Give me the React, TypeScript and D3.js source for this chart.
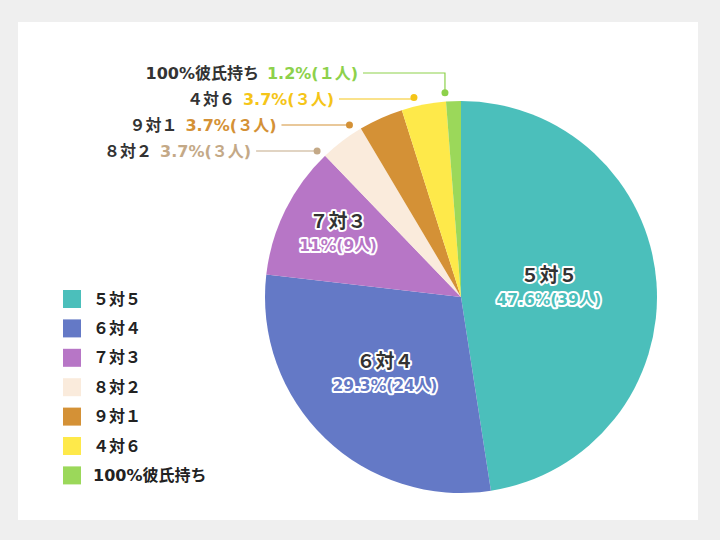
import * as d3 from 'd3';
import React, { useEffect, useRef } from 'react';

// Chart data
const categories = ["５対５", "６対４", "７対３", "８対２", "９対１", "４対６", "100%彼氏持ち"];
const counts = [39, 24, 9, 3, 3, 3, 1];
const percentLabels = ["47.6%", "29.3%", "11%", "3.7%", "3.7%", "3.7%", "1.2%"];
const sliceColors = ["#4bbfbb", "#6479c6", "#b776c6", "#faebdc", "#d49136", "#fee94a", "#9bd85a"];
// darker text tones for the values written next to the small slices
const valueColors = ["#4bbfbb", "#6479c6", "#b776c6", "#c4a987", "#d49136", "#f5c518", "#8dd14b"];

const FONT = "'DejaVu Sans', 'Noto Sans CJK JP', sans-serif";

const toFullWidth = (n: number) =>
  String(n).replace(/[0-9]/g, c => String.fromCharCode(c.charCodeAt(0) + 0xfee0));

const App: React.FC = () => {
  const ref = useRef<SVGSVGElement>(null);

  useEffect(() => {
    if (!ref.current) return;
    d3.select(ref.current).selectAll("*").remove();

    const width = 720;
    const height = 540;
    const svg = d3.select(ref.current)
      .attr("width", width)
      .attr("height", height);

    // background + white panel
    svg.append("rect").attr("width", width).attr("height", height).attr("fill", "#efefef");
    svg.append("rect")
      .attr("x", 18).attr("y", 22)
      .attr("width", 680).attr("height", 498)
      .attr("fill", "#ffffff");

    const cx = 461, cy = 297, radius = 196;

    const pie = d3.pie<number>().sort(null).value(d => d);
    const arcs = pie(counts);
    const arc = d3.arc<d3.PieArcDatum<number>>().innerRadius(0).outerRadius(radius);

    const g = svg.append("g").attr("transform", `translate(${cx},${cy})`);

    g.selectAll("path.slice")
      .data(arcs)
      .enter().append("path")
      .attr("class", "slice")
      .attr("d", arc)
      .attr("fill", (_, i) => sliceColors[i]);

    // labels inside the three big slices
    const labelRadius = [0.45, 0.56, 0.7];
    labelRadius.forEach((f, i) => {
      const a = arcs[i];
      const [lx, ly] = d3.arc<d3.PieArcDatum<number>>()
        .innerRadius(radius * f).outerRadius(radius * f)
        .centroid(a);
      const lbl = g.append("g").attr("transform", `translate(${lx},${ly - 3})`);
      lbl.append("text")
        .attr("y", -12)
        .attr("text-anchor", "middle")
        .attr("dominant-baseline", "central")
        .style("font", `bold 19px ${FONT}`)
        .attr("fill", "#333")
        .attr("stroke", "#fff").attr("stroke-width", 4)
        .attr("stroke-linejoin", "round")
        .attr("paint-order", "stroke")
        .text(categories[i]);
      lbl.append("text")
        .attr("y", 13)
        .attr("text-anchor", "middle")
        .attr("dominant-baseline", "central")
        .style("font", `bold 15.5px ${FONT}`)
        .attr("fill", valueColors[i])
        .attr("stroke", "#fff").attr("stroke-width", 4)
        .attr("stroke-linejoin", "round")
        .attr("paint-order", "stroke")
        .text(`${percentLabels[i]}(${counts[i]}人)`);
    });

    // callouts for the small slices, stacked from the top
    const outside = [6, 5, 4, 3];
    const dotR = radius + 9;
    outside.forEach((i, row) => {
      const a = arcs[i];
      const rowY = 73 + row * 26;
      const lineLen = 82 - row * 7;
      const mid = (a.startAngle + a.endAngle) / 2;
      let dx: number, dy: number;
      const relY = rowY - cy;
      const elbow = Math.abs(relY) > dotR - 10;
      if (elbow) {
        dx = cx + dotR * Math.sin(mid - 0.04);
        dy = cy - dotR * Math.cos(mid - 0.04);
      } else {
        dx = cx - Math.sqrt(dotR * dotR - relY * relY);
        dy = rowY;
      }
      const x0 = dx - lineLen;
      const pts: [number, number][] = elbow
        ? [[x0, rowY], [dx, rowY], [dx, dy]]
        : [[x0, rowY], [dx, rowY]];
      svg.append("path")
        .attr("d", d3.line()(pts))
        .attr("fill", "none")
        .attr("stroke", valueColors[i])
        .attr("stroke-width", 1.2);
      svg.append("circle")
        .attr("cx", dx).attr("cy", dy).attr("r", 3.5)
        .attr("fill", valueColors[i]);

      const t = svg.append("text")
        .attr("x", x0 - 5)
        .attr("y", rowY)
        .attr("text-anchor", "end")
        .attr("dominant-baseline", "central")
        .style("font", `bold 16px ${FONT}`);
      t.append("tspan").attr("fill", "#333").text(categories[i]);
      t.append("tspan").attr("dx", 8).attr("fill", valueColors[i])
        .text(`${percentLabels[i]}(${toFullWidth(counts[i])}人)`);
    });

    // legend
    const legend = svg.append("g").attr("transform", "translate(63,290)");
    const rows = legend.selectAll("g.item")
      .data(categories)
      .enter().append("g")
      .attr("class", "item")
      .attr("transform", (_, i) => `translate(0,${i * 29.4})`);
    rows.append("rect")
      .attr("width", 18).attr("height", 18)
      .attr("fill", (_, i) => sliceColors[i]);
    rows.append("text")
      .attr("x", 30).attr("y", 9)
      .attr("dominant-baseline", "central")
      .style("font", `bold 16px ${FONT}`)
      .attr("fill", "#222")
      .text(d => d);
  }, []);

  return <svg ref={ref} style={{ position: "absolute", left: 0, top: 0 }}></svg>;
};

export default App;
